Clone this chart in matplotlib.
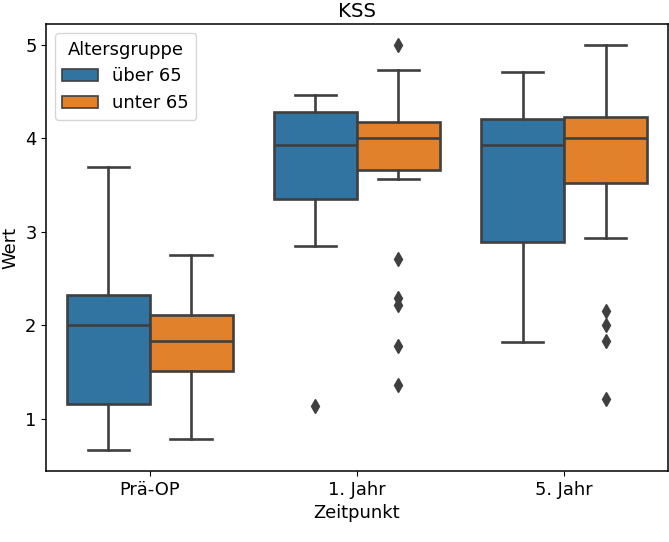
import numpy as np
import matplotlib
matplotlib.use("Agg")
import matplotlib.pyplot as plt
from matplotlib.patches import Patch

plt.rcParams["font.size"] = 12.9

# Werte
zeitpunkte = ["Prä-OP", "1. Jahr", "5. Jahr"]
gruppen = ["über 65", "unter 65"]

# über 65
ueber_whislo = [0.66, 2.85, 1.82]
ueber_q1 = [1.16, 3.35, 2.89]
ueber_med = [2.0, 3.93, 3.93]
ueber_q3 = [2.32, 4.28, 4.21]
ueber_whishi = [3.69, 4.46, 4.71]
ueber_fliers = [[], [1.14], []]

# unter 65
unter_whislo = [0.78, 3.57, 2.93]
unter_q1 = [1.51, 3.66, 3.52]
unter_med = [1.83, 4.0, 4.0]
unter_q3 = [2.11, 4.18, 4.23]
unter_whishi = [2.75, 4.73, 5.0]
unter_fliers = [[], [5.0, 2.71, 2.29, 2.22, 1.78, 1.36], [2.15, 2.0, 1.83, 1.21]]

farben = ["#3274a1", "#e1812c"]
grau = "#3f3f3f"
lw = 1.9


def make_stats(lo, q1, med, q3, hi, fl):
    return [dict(whislo=a, q1=b, med=c, q3=d, whishi=e, fliers=f)
            for a, b, c, d, e, f in zip(lo, q1, med, q3, hi, fl)]


stats = [
    make_stats(ueber_whislo, ueber_q1, ueber_med, ueber_q3, ueber_whishi, ueber_fliers),
    make_stats(unter_whislo, unter_q1, unter_med, unter_q3, unter_whishi, unter_fliers),
]

fig, ax = plt.subplots(figsize=(6.69, 5.42), dpi=100)
fig.subplots_adjust(left=0.069, right=0.998, bottom=0.131, top=0.955)

x = np.arange(len(zeitpunkte))
offsets = [-0.2, 0.2]
for i, (st, farbe) in enumerate(zip(stats, farben)):
    ax.bxp(
        st,
        positions=x + offsets[i],
        widths=0.4,
        capwidths=0.2,
        patch_artist=True,
        boxprops=dict(facecolor=farbe, edgecolor=grau, linewidth=lw),
        medianprops=dict(color=grau, linewidth=lw),
        whiskerprops=dict(color=grau, linewidth=lw),
        capprops=dict(color=grau, linewidth=lw),
        flierprops=dict(marker="d", markerfacecolor=grau, markeredgecolor=grau,
                        markersize=7, linestyle="none"),
        manage_ticks=False,
    )

ax.set_xlim(-0.5, 2.5)
ax.set_ylim(0.44, 5.22)
ax.set_xticks(x)
ax.set_xticklabels(zeitpunkte)
ax.set_yticks([1, 2, 3, 4, 5])
ax.set_xlabel("Zeitpunkt")
ax.set_ylabel("Wert")
ax.set_title("KSS", fontsize=14.3, pad=5)
for s in ax.spines.values():
    s.set_linewidth(1.1)

handles = [Patch(facecolor=f, edgecolor=grau, linewidth=1.2) for f in farben]
ax.legend(handles, gruppen, title="Altersgruppe", loc="upper left",
          title_fontsize=12.9)

plt.savefig("out.png")
